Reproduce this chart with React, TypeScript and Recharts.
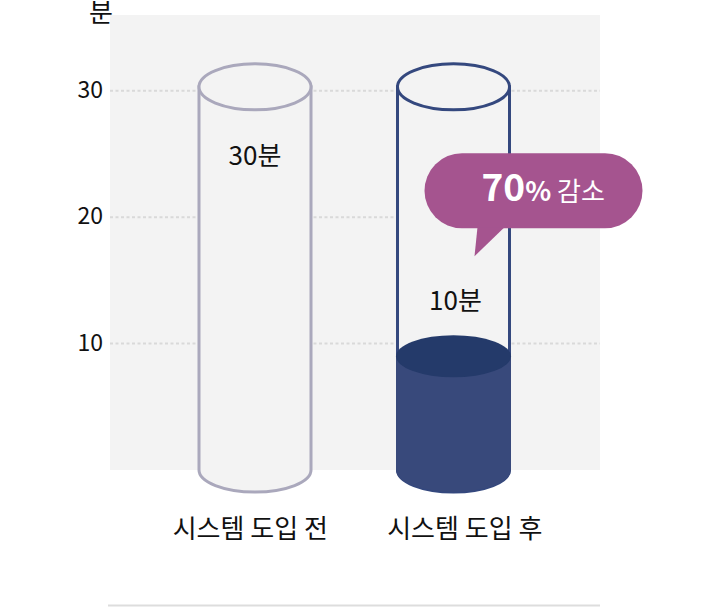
import React from 'react';
import { BarChart, Bar, XAxis, YAxis, CartesianGrid, LabelList } from 'recharts';

const categories = ['시스템 도입 전', '시스템 도입 후'];
const capacityValues = [30, 30];
const levelValues = [0, 9];
const valueLabels = ['30분', '10분'];
const yTicks = [10, 20, 30];
const yMax = 36;
const unitLabel = '분';
const calloutMain = '70';
const calloutPct = '%';
const calloutRest = ' 감소';

const data = categories.map((name, i) => ({
  name,
  capacity: capacityValues[i],
  level: levelValues[i],
  label: valueLabels[i],
}));

const FONT = '"Noto Sans CJK KR", "Noto Sans", sans-serif';
const BG = '#f3f3f3';
const outlineColors = ['#aaa8bc', '#34487e'];
const RY = 23;
const labelShift = [-5, 11];

const OutlineShape = (props: any) => {
  const { x, y, width, height, index } = props;
  const rx = width / 2;
  const cx = x + rx;
  const bottom = y + height;
  const top = y - 4;
  const color = outlineColors[index] || '#888';
  return (
    <g>
      <path
        d={`M ${x} ${top} L ${x} ${bottom} A ${rx} ${RY - 1} 0 0 0 ${x + width} ${bottom} L ${x + width} ${top} Z`}
        fill={BG}
        stroke={color}
        strokeWidth={3}
      />
      <ellipse cx={cx} cy={top} rx={rx} ry={RY} fill={BG} stroke={color} strokeWidth={3} />
    </g>
  );
};

const LevelShape = (props: any) => {
  const { x, y, width, height } = props;
  if (!height || height <= 0) return null;
  const rx = width / 2 + 1.5;
  const left = x - 1.5;
  const right = x + width + 1.5;
  const cx = x + width / 2;
  const bottom = y + height;
  return (
    <g>
      <path
        d={`M ${left} ${y} L ${left} ${bottom} A ${rx} ${RY - 1} 0 0 0 ${right} ${bottom} L ${right} ${y} Z`}
        fill="#38497b"
      />
      <ellipse cx={cx} cy={y} rx={rx} ry={RY - 2} fill="#243a6a" />
    </g>
  );
};

const CapacityLabel = (props: any) => {
  const { x, y, width, index } = props;
  if (index !== 0) return null;
  return (
    <text x={x + width / 2} y={y + 74} textAnchor="middle" fontFamily={FONT} fontSize={26} fill="#111">
      {valueLabels[index]}
    </text>
  );
};

const LevelLabel = (props: any) => {
  const { x, y, width, index } = props;
  if (index !== 1) return null;
  const bx = x + 27;
  const by = y - 203;
  const bw = 218;
  const bh = 75;
  return (
    <g>
      <text x={x + width / 2 + 2} y={y - 46} textAnchor="middle" fontFamily={FONT} fontSize={26} fill="#111">
        {valueLabels[index]}
      </text>
      <rect x={bx} y={by} width={bw} height={bh} rx={bh / 2} ry={bh / 2} fill="#a5548f" />
      <path d={`M ${bx + 53} ${by + bh - 1} L ${bx + 80} ${by + bh - 1} L ${bx + 50} ${by + bh + 28} Z`} fill="#a5548f" />
      <text x={bx + 57} y={by + 48} fontFamily={FONT} fill="#fff">
        <tspan fontSize={37} fontWeight={700}>{calloutMain}</tspan>
        <tspan fontSize={27} fontWeight={700}>{calloutPct}</tspan>
        <tspan fontSize={26}>{calloutRest}</tspan>
      </text>
    </g>
  );
};

const XTick = (props: any) => {
  const { x, y, payload, index } = props;
  return (
    <text x={x + (labelShift[index] || 0)} y={y + 60} textAnchor="middle" fontFamily={FONT} fontSize={26} fill="#111">
      {payload.value}
    </text>
  );
};

const YTick = (props: any) => {
  const { x, y, payload } = props;
  return (
    <text x={x} y={y + 7} textAnchor="end" fontFamily={FONT} fontSize={23} fill="#111">
      {payload.value}
    </text>
  );
};

const gridRows = (args: any) => {
  const off = args && args.offset;
  if (!off) return [];
  return yTicks.map((t) => off.top + off.height * (1 - t / yMax));
};

export default function App() {
  return (
    <div style={{ position: 'absolute', left: 0, top: 0, width: 720, height: 608, background: '#fff' }}>
      <BarChart
        width={720}
        height={608}
        data={data}
        margin={{ top: 15, right: 120, bottom: 78, left: 0 }}
      >
        <CartesianGrid
          vertical={false}
          horizontal={true}
          fill={BG}
          stroke="#d9d9d9"
          strokeWidth={2}
          strokeDasharray="3 2.5"
          horizontalCoordinatesGenerator={gridRows}
        />
        <XAxis
          xAxisId="a"
          dataKey="name"
          axisLine={false}
          tickLine={false}
          padding={{ left: 46, right: 47 }}
          height={60}
          tick={<XTick />}
        />
        <XAxis xAxisId="b" dataKey="name" hide padding={{ left: 46, right: 47 }} />
        <YAxis
          domain={[0, yMax]}
          ticks={yTicks}
          width={110}
          axisLine={false}
          tickLine={false}
          tickSize={0}
          tickMargin={7}
          tick={<YTick />}
        />
        <Bar xAxisId="a" dataKey="capacity" barSize={112} shape={<OutlineShape />} isAnimationActive={false}>
          <LabelList dataKey="label" content={<CapacityLabel />} />
        </Bar>
        <Bar xAxisId="b" dataKey="level" barSize={112} shape={<LevelShape />} isAnimationActive={false}>
          <LabelList dataKey="label" content={<LevelLabel />} />
        </Bar>
        <text x={101} y={22} textAnchor="middle" fontFamily={FONT} fontSize={26} fill="#111">
          {unitLabel}
        </text>
        <line x1={108} x2={600} y1={605.5} y2={605.5} stroke="#dddddd" strokeWidth={2} />
      </BarChart>
    </div>
  );
}
